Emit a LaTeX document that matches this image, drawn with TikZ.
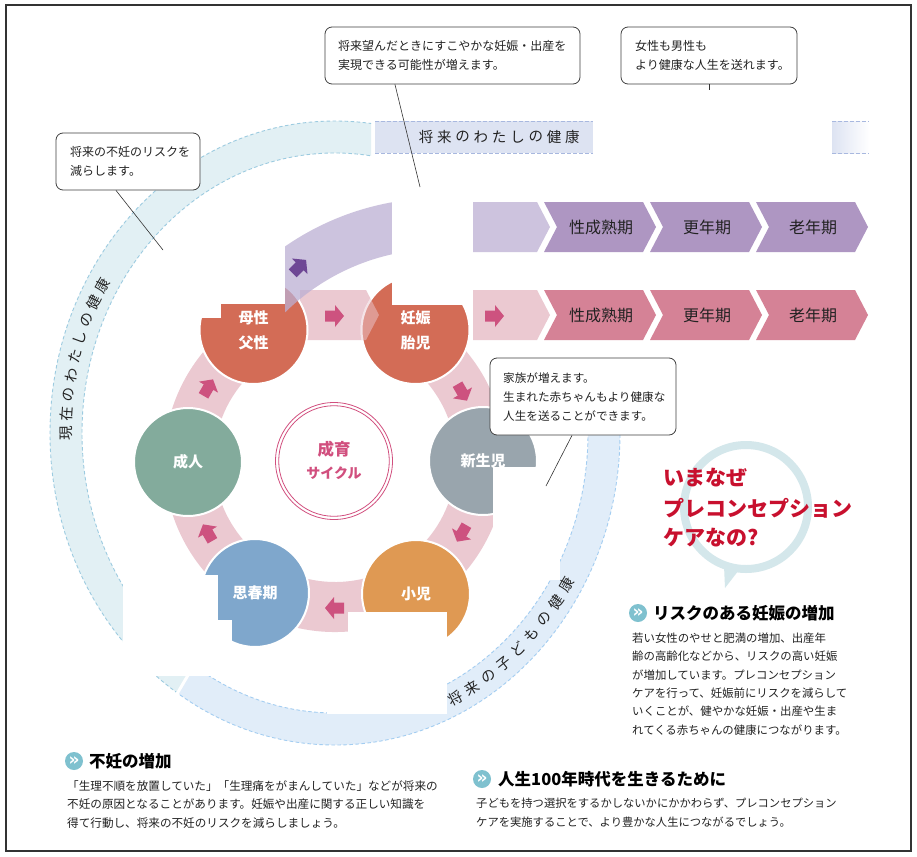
\documentclass[tikz,border=0pt]{standalone}
\usepackage{fontspec}
\setmainfont{Noto Sans CJK JP}
\newfontfamily\djv{DejaVu Sans}
\usetikzlibrary{calc}
\definecolor{ringcyan}{HTML}{E2F0F4}
\definecolor{cyandash}{HTML}{9CCBE0}
\definecolor{ringblue}{HTML}{E1EDF9}
\definecolor{bluedash}{HTML}{A3CDF1}
\definecolor{bandfill}{HTML}{DDE3F2}
\definecolor{banddash}{HTML}{A8B8DF}
\definecolor{lpurple}{HTML}{CDC3DE}
\definecolor{lpurpleT}{HTML}{BCAFD3}
\definecolor{dpurple}{HTML}{AE96C2}
\definecolor{lpink}{HTML}{EBC9D1}
\definecolor{dpink}{HTML}{D58296}
\definecolor{terra}{HTML}{D36C56}
\definecolor{stgray}{HTML}{99A5AD}
\definecolor{storange}{HTML}{DF9953}
\definecolor{stblue}{HTML}{7FA7CC}
\definecolor{stgreen}{HTML}{83AB9C}
\definecolor{arrpink}{HTML}{CD527F}
\definecolor{arrpurple}{HTML}{6E4795}
\definecolor{cycpink}{HTML}{D14F7E}
\definecolor{headred}{HTML}{C8102E}
\definecolor{bubble}{HTML}{D4E7EB}
\definecolor{iconcol}{HTML}{7FC1CF}
\definecolor{txt}{HTML}{222222}
\newcommand\blockarr[4]{\fill[#4, shift={(#1,#2)}, rotate=#3] (-9,-5.5) -- (1,-5.5) -- (1,-11) -- (10,0) -- (1,11) -- (1,5.5) -- (-9,5.5) -- cycle;}
\tikzset{
 dashline/.style={line width=0.9pt, dash pattern=on 3.5pt off 2.5pt},
 stage/.style={circle, minimum size=108pt, inner sep=0pt, draw=white, line width=2pt, text=white, font=\fontsize{15}{25}\selectfont\bfseries, align=center},
 chevlabel/.style={text=txt, inner sep=0pt, font=\fontsize{16}{16}\selectfont},
 callbox/.style={draw=black!75, line width=0.8pt, rounded corners=7pt, fill=white, inner sep=0pt},
 calltext/.style={anchor=west, align=left, inner sep=0pt, text=txt, font=\fontsize{12}{19}\selectfont},
 callline/.style={draw=black!80, line width=0.6pt},
 ringtxt/.style={text=txt, inner sep=0pt, font=\fontsize{14.5}{14.5}\selectfont},
 bodytext/.style={anchor=west, align=left, inner sep=0pt, text=txt},
 headtext/.style={anchor=west, inner sep=0pt, text=black, font=\fontsize{16.5}{16.5}\selectfont\bfseries},
 redhead/.style={anchor=west, inner sep=0pt, text=headred, font=\fontsize{21}{21}\selectfont\bfseries},
 iconc/.style={circle, fill=iconcol, minimum size=18pt, inner sep=0pt, text=white, font=\djv\fontsize{17}{17}\selectfont\bfseries},
 whitepatch/.style={fill=white},
}
\begin{document}
\begin{tikzpicture}[x=1pt,y=-1pt]
\useasboundingbox (0,0) rectangle (917,856);
\fill[white] (0,0) rectangle (917,856);

% ---- big ring: present (cyan) part
\begin{scope}
 \clip (335,433) -- (25,943) -- (-100,943) -- (-100,-100) -- (371,-100) -- (371,433) -- cycle;
 \fill[ringcyan, even odd rule] (335,433) ellipse [x radius=285pt, y radius=312pt] (335,433) ellipse [x radius=253pt, y radius=280pt];
 \draw[cyandash, dashline] (335,433) ellipse [x radius=285pt, y radius=312pt];
 \draw[cyandash, dashline] (335,433) ellipse [x radius=253pt, y radius=280pt];
\end{scope}
% ---- big ring: children (blue) part
\begin{scope}
 \clip (335,433) -- (25,943) -- (1000,943) -- (1000,420) -- (335,420) -- cycle;
 \fill[ringblue, even odd rule] (335,433) ellipse [x radius=285pt, y radius=312pt] (335,433) ellipse [x radius=253pt, y radius=280pt];
 \draw[bluedash, dashline] (335,433) ellipse [x radius=285pt, y radius=312pt];
 \draw[bluedash, dashline] (335,433) ellipse [x radius=253pt, y radius=280pt];
\end{scope}
\draw[white, line width=3pt] (194,665) -- (164,716);

% ---- top band (future me)
\fill[bandfill] (375,121) rectangle (593,153);
\draw[banddash, dashline] (375,121) -- (593,121) (375,153) -- (593,153);
\shade[left color=bandfill, right color=white] (832,121) rectangle (869,153);
\draw[banddash, dashline] (832,121) -- (869,121) (832,153) -- (869,153);

% ---- chevron rows
\fill[lpurple] (473,202) -- (537,202) -- (550,227) -- (537,252) -- (473,252) -- cycle;
\fill[lpink] (473,290) -- (537,290) -- (550,315) -- (537,340) -- (473,340) -- cycle;
\foreach \L in {544,650,756} {
 \fill[dpurple] (\L,202) -- (\L+99,202) -- (\L+112,227) -- (\L+99,252) -- (\L,252) -- (\L+13,227) -- cycle;
 \fill[dpink] (\L,290) -- (\L+99,290) -- (\L+112,315) -- (\L+99,340) -- (\L,340) -- (\L+13,315) -- cycle;
}
\node[chevlabel] (pu1) at (601,227) {性成熟期};
\node[chevlabel] (pu2) at (707,227) {更年期};
\node[chevlabel] (pu3) at (813,227) {老年期};
\node[chevlabel] (pk1) at (601,315) {性成熟期};
\node[chevlabel] (pk2) at (707,315) {更年期};
\node[chevlabel] (pk3) at (813,315) {老年期};

% ---- pink cycle band
\fill[lpink, shift={(335,461)}] (58:171pt) arc[start angle=58, end angle=-238, radius=171pt] -- (-238:121pt) arc[start angle=-238, end angle=58, radius=121pt] -- cycle;
\fill[lpink] (300,290) -- (366,290) -- (379,315) -- (366,340) -- (300,340) -- cycle;

% ---- stage circles
\node[stage, fill=terra] (ninshin) at (415.5,330) {妊娠\\胎児};
\begin{scope}
 \clip (ninshin.center) circle [radius=55pt];
 \fill[lpink, fill opacity=0.5] (300,290) -- (366,290) -- (379,315) -- (366,340) -- (300,340) -- cycle;
\end{scope}
\node[stage, fill=terra] (bosei) at (253.5,330) {母性\\父性};
\node[stage, fill=stgray] (shinsei) at (483,461) {新生児};
\node[stage, fill=storange] (shoni) at (416,594) {小児};
\node[stage, fill=stblue] (shishun) at (255,593) {思春期};
\node[stage, fill=stgreen] (seijin) at (188,462) {成人};

% ---- purple band to future
\begin{scope}
 \clip (285,150) rectangle (392,330);
 \fill[lpurpleT, fill opacity=0.75, shift={(440,470)}] (95:272pt) arc[start angle=95, end angle=140, radius=272pt] -- (140:221pt) arc[start angle=140, end angle=95, radius=221pt] -- cycle;
\end{scope}

% ---- arrows
\blockarr{334}{316}{0}{arrpink}
\blockarr{494}{316}{0}{arrpink}
\blockarr{462}{392}{-60}{arrpink}
\blockarr{462}{533}{-120}{arrpink}
\blockarr{335}{608}{180}{arrpink}
\blockarr{208}{533}{120}{arrpink}
\blockarr{208}{388}{60}{arrpink}
\blockarr{299}{267}{45}{arrpurple}

% ---- centre
\node[circle, minimum size=117pt, inner sep=0pt, draw=cycpink, line width=0.8pt] (cyc) at (334,461) {};
\draw[cycpink, line width=0.8pt] (cyc.center) circle [radius=55.3pt];
\node[inner sep=0pt, text=cycpink, font=\fontsize{16.5}{16.5}\selectfont\bfseries] (cyc1) at (334,449) {成育};
\node[inner sep=0pt, text=cycpink, font=\fontsize{14}{14}\selectfont\bfseries] (cyc2) at (334,473) {サイクル};

% ---- white patches (removed pictures)
\fill[whitepatch] (167,224) rectangle (285,304);
\fill[whitepatch] (183,212) rectangle (285,224);
\fill[whitepatch] (199,304) rectangle (221,318);
\fill[whitepatch] (392,188) rectangle (473,305);
\fill[whitepatch] (493,467) rectangle (560,580);
\fill[whitepatch] (123,575) rectangle (218,676);
\fill[whitepatch] (218,620) rectangle (232,676);
\fill[whitepatch] (327,633) rectangle (447,714);
\fill[whitepatch] (348,612) rectangle (447,633);

% ---- ring texts
\foreach \ch [count=\i] in {現,在,の,わ,た,し,の,健,康} {
 \pgfmathsetmacro\ang{180-3.75*(\i-1)}
 \node[ringtxt, rotate=\ang-90] (rl\i) at ({335+269*cos(\ang)},{433-296*sin(\ang)}) {\ch};
}
\foreach \ch [count=\i] in {将,来,の,子,ど,も,の,健,康} {
 \pgfmathsetmacro\ang{-63.5+4.1*(\i-1)}
 \node[ringtxt, rotate=\ang+90] (rr\i) at ({335+269*cos(\ang)},{433-296*sin(\ang)}) {\ch};
}
\foreach \ch [count=\i] in {将,来,の,わ,た,し,の,健,康} {
 \node[ringtxt] (tb\i) at ({426+18.3*(\i-1)},137) {\ch};
}

% ---- callouts
\node[callbox, minimum width=144pt, minimum height=57pt] (c1) at (128,161.5) {};
\node[calltext] (t1) at (70,161.5) {将来の不妊のリスクを\\減らします。};
\coordinate (c1end) at (163,250);
\draw[callline] ($(c1.south west)!0.417!(c1.south east)$) -- (c1end);

\node[callbox, minimum width=255pt, minimum height=57pt] (c2) at (452.5,55.5) {};
\node[calltext] (t2) at (338,55.5) {将来望んだときにすこやかな妊娠・出産を\\実現できる可能性が増えます。};
\coordinate (c2end) at (420,187);
\draw[callline] ($(c2.south west)!0.275!(c2.south east)$) -- (c2end);

\node[callbox, minimum width=176pt, minimum height=57pt] (c3) at (709,55.5) {};
\node[calltext] (t3) at (635,55.5) {女性も男性も\\より健康な人生を送れます。};
\coordinate (c3end) at (709,90);
\draw[callline] (c3.south) -- (c3end);

\node[callbox, minimum width=186pt, minimum height=77pt] (c4) at (583,396.5) {};
\node[calltext, font=\fontsize{11.6}{19}\selectfont] (t4) at (503,397) {家族が増えます。\\生まれた赤ちゃんもより健康な\\人生を送ることができます。};
\coordinate (c4end) at (546,486);
\draw[callline] ($(c4.south west)!0.441!(c4.south east)$) -- (c4end);

% ---- speech bubble heading
\draw[bubble, line width=8pt] (746,507) circle [radius=62pt];
\fill[bubble] (724,566) -- (742,566) -- (725,588) -- cycle;
\node[redhead] (r1) at (663,478) {いまなぜ};
\node[redhead] (r2) at (663,508) {プレコンセプション};
\node[redhead] (r3) at (663,538) {ケアなの?};

% ---- sections
\node[iconc] (i2) at (638,613) {»};
\node[headtext] (h2) at (653,613) {リスクのある妊娠の増加};
\node[bodytext, font=\fontsize{11.4}{18.4}\selectfont] (b2) at (632,684) {若い女性のやせと肥満の増加、出産年\\齢の高齢化などから、リスクの高い妊娠\\が増加しています。プレコンセプション\\ケアを行って、妊娠前にリスクを減らして\\いくことが、健やかな妊娠・出産や生ま\\れてくる赤ちゃんの健康につながります。};

\node[iconc] (i1) at (74,761) {»};
\node[headtext] (h1) at (89,761) {不妊の増加};
\node[bodytext, font=\fontsize{11.6}{18.3}\selectfont] (b1) at (67,804.5) {「生理不順を放置していた」「生理痛をがまんしていた」などが将来の\\不妊の原因となることがあります。妊娠や出産に関する正しい知識を\\得て行動し、将来の不妊のリスクを減らしましょう。};

\node[iconc] (i3) at (482,779) {»};
\node[headtext] (h3) at (498,779) {人生100年時代を生きるために};
\node[bodytext, font=\fontsize{11.3}{19}\selectfont] (b3) at (476,812.5) {子どもを持つ選択をするかしないかにかかわらず、プレコンセプション\\ケアを実施することで、より豊かな人生につながるでしょう。};

% ---- frame
\draw[black!80, line width=1.3pt] (6,5) rectangle (911,851);
\end{tikzpicture}
\end{document}
